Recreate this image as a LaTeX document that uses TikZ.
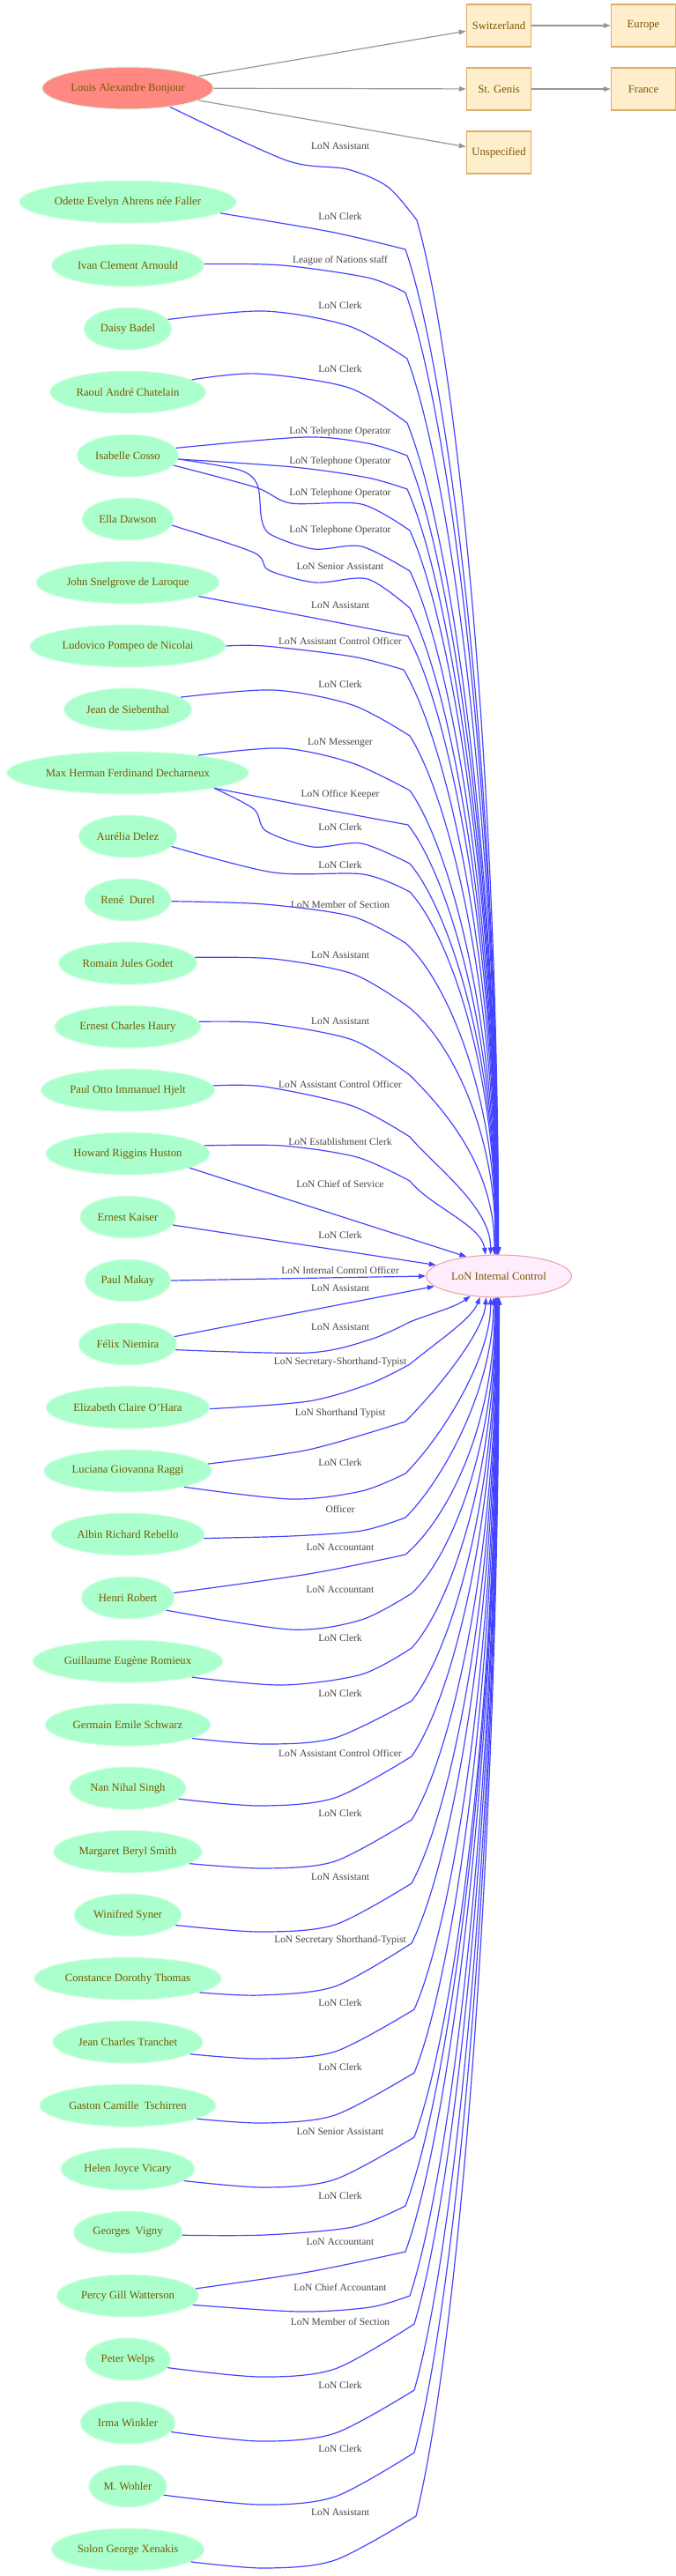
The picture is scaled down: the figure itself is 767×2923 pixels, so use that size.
\documentclass[tikz,border=0pt]{standalone}
\usepackage{fontspec}
\setmainfont{Liberation Serif}
\usetikzlibrary{arrows.meta}
\usetikzlibrary{shapes}
\definecolor{personfill}{RGB}{170,255,204}
\definecolor{personline}{RGB}{210,255,225}
\definecolor{headfill}{RGB}{255,136,130}
\definecolor{officefill}{RGB}{255,236,252}
\definecolor{officeline}{RGB}{235,165,165}
\definecolor{placefill}{RGB}{255,238,204}
\definecolor{placeline}{RGB}{222,172,105}
\definecolor{nametext}{RGB}{120,88,0}
\definecolor{roletext}{RGB}{68,68,68}
\definecolor{staffblue}{RGB}{68,68,255}
\definecolor{placegray}{RGB}{150,150,150}

\begin{document}
\begin{tikzpicture}[x=0.75pt, y=-0.75pt, font=\fontsize{9.5}{11}\selectfont]
\tikzstyle{personStyle}=[shape=ellipse, draw=personline, fill=personfill, text=nametext, minimum height=36pt, inner xsep=3pt, line width=0.8pt]
\tikzstyle{headStyle}=[personStyle, fill=headfill]
\tikzstyle{officeStyle}=[shape=ellipse, draw=officeline, fill=officefill, text=nametext, minimum height=36pt, minimum width=115pt, line width=0.8pt]
\tikzstyle{placeStyle}=[shape=rectangle, draw=placeline, fill=placefill, text=nametext, minimum height=36pt, minimum width=55pt, inner xsep=4pt, line width=0.8pt]
\tikzstyle{roleStyle}=[text=roletext, font=\fontsize{8.6}{10}\selectfont, inner sep=1pt]
\tikzstyle{staffEdge}=[draw=staffblue, line width=0.9pt, -{Triangle[length=6pt,width=4.2pt]}]
\tikzstyle{placeEdge}=[draw=placegray, line width=0.9pt, -{Triangle[length=6pt,width=4.2pt]}]
\useasboundingbox (0,0) rectangle (767,2923);
\node[headStyle] (v0) at (145,100) {Louis Alexandre Bonjour};
\node[placeStyle] (v1) at (566,29) {Switzerland};
\node[placeStyle] (v2) at (566,101) {St. Genis};
\node[placeStyle] (v3) at (566,173) {Unspecified};
\node[placeStyle] (v4) at (730,29) {Europe};
\node[placeStyle] (v5) at (730,101) {France};
\node[officeStyle] (v6) at (566,1448) {LoN Internal Control};
\node[personStyle] (v7) at (145,229) {Odette Evelyn Ahrens née Faller};
\node[personStyle] (v8) at (145,301) {Ivan Clement Arnould};
\node[personStyle] (v9) at (145,373) {Daisy Badel};
\node[personStyle] (v10) at (145,445) {Raoul André Chatelain};
\node[personStyle] (v11) at (145,517) {Isabelle Cosso};
\node[personStyle] (v12) at (145,589) {Ella Dawson};
\node[personStyle] (v13) at (145,661) {John Snelgrove de Laroque};
\node[personStyle] (v14) at (145,733) {Ludovico Pompeo de Nicolai};
\node[personStyle] (v15) at (145,805) {Jean de Siebenthal};
\node[personStyle] (v16) at (145,877) {Max Herman Ferdinand Decharneux};
\node[personStyle] (v17) at (145,949) {Aurélia Delez};
\node[personStyle] (v18) at (145,1021) {René\ \ Durel};
\node[personStyle] (v19) at (145,1093) {Romain Jules Godet};
\node[personStyle] (v20) at (145,1165) {Ernest Charles Haury};
\node[personStyle] (v21) at (145,1237) {Paul Otto Immanuel Hjelt};
\node[personStyle] (v22) at (145,1309) {Howard Riggins Huston};
\node[personStyle] (v23) at (145,1381) {Ernest Kaiser};
\node[personStyle] (v24) at (145,1453) {Paul Makay};
\node[personStyle] (v25) at (145,1525) {Félix Niemira};
\node[personStyle] (v26) at (145,1597) {Elizabeth Claire O'Hara};
\node[personStyle] (v27) at (145,1669) {Luciana Giovanna Raggi};
\node[personStyle] (v28) at (145,1741) {Albin Richard Rebello};
\node[personStyle] (v29) at (145,1813) {Henri Robert};
\node[personStyle] (v30) at (145,1885) {Guillaume Eugène Romieux};
\node[personStyle] (v31) at (145,1957) {Germain Emile Schwarz};
\node[personStyle] (v32) at (145,2029) {Nan Nihal Singh};
\node[personStyle] (v33) at (145,2101) {Margaret Beryl Smith};
\node[personStyle] (v34) at (145,2173) {Winifred Syner};
\node[personStyle] (v35) at (145,2245) {Constance Dorothy Thomas};
\node[personStyle] (v36) at (145,2317) {Jean Charles Tranchet};
\node[personStyle] (v37) at (145,2389) {Gaston Camille\ \ Tschirren};
\node[personStyle] (v38) at (145,2461) {Helen Joyce Vicary};
\node[personStyle] (v39) at (145,2533) {Georges\ \ Vigny};
\node[personStyle] (v40) at (145,2605) {Percy Gill Watterson};
\node[personStyle] (v41) at (145,2677) {Peter Welps};
\node[personStyle] (v42) at (145,2749) {Irma Winkler};
\node[personStyle] (v43) at (145,2821) {M. Wohler};
\node[personStyle] (v44) at (145,2893) {Solon George Xenakis};
\node[roleStyle] (l0) at (386,166) {LoN Assistant};
\node[roleStyle] (l1) at (386,246) {LoN Clerk};
\node[roleStyle] (l2) at (386,296) {League of Nations staff};
\node[roleStyle] (l3) at (386,347) {LoN Clerk};
\node[roleStyle] (l4) at (386,419) {LoN Clerk};
\node[roleStyle] (l5) at (386,490) {LoN Telephone Operator};
\node[roleStyle] (l6) at (386,524) {LoN Telephone Operator};
\node[roleStyle] (l7) at (386,560) {LoN Telephone Operator};
\node[roleStyle] (l8) at (386,602) {LoN Telephone Operator};
\node[roleStyle] (l9) at (386,643) {LoN Senior Assistant};
\node[roleStyle] (l10) at (386,687) {LoN Assistant};
\node[roleStyle] (l11) at (386,728) {LoN Assistant Control Officer};
\node[roleStyle] (l12) at (386,777) {LoN Clerk};
\node[roleStyle] (l13) at (386,843) {LoN Messenger};
\node[roleStyle] (l14) at (386,902) {LoN Office Keeper};
\node[roleStyle] (l15) at (386,939) {LoN Clerk};
\node[roleStyle] (l16) at (386,982) {LoN Clerk};
\node[roleStyle] (l17) at (386,1027) {LoN Member of Section};
\node[roleStyle] (l18) at (386,1084) {LoN Assistant};
\node[roleStyle] (l19) at (386,1159) {LoN Assistant};
\node[roleStyle] (l20) at (386,1231) {LoN Assistant Control Officer};
\node[roleStyle] (l21) at (386,1296) {LoN Establishment Clerk};
\node[roleStyle] (l22) at (386,1344) {LoN Chief of Service};
\node[roleStyle] (l23) at (386,1402) {LoN Clerk};
\node[roleStyle] (l24) at (386,1442) {LoN Internal Control Officer};
\node[roleStyle] (l25) at (386,1462) {LoN Assistant};
\node[roleStyle] (l26) at (386,1506) {LoN Assistant};
\node[roleStyle] (l27) at (386,1546) {LoN Secretary-Shorthand-Typist};
\node[roleStyle] (l28) at (386,1604) {LoN Shorthand Typist};
\node[roleStyle] (l29) at (386,1660) {LoN Clerk};
\node[roleStyle] (l30) at (386,1712) {Officer};
\node[roleStyle] (l31) at (386,1756) {LoN Accountant};
\node[roleStyle] (l32) at (386,1804) {LoN Accountant};
\node[roleStyle] (l33) at (386,1859) {LoN Clerk};
\node[roleStyle] (l34) at (386,1922) {LoN Clerk};
\node[roleStyle] (l35) at (386,1989) {LoN Assistant Control Officer};
\node[roleStyle] (l36) at (386,2058) {LoN Clerk};
\node[roleStyle] (l37) at (386,2130) {LoN Assistant};
\node[roleStyle] (l38) at (386,2202) {LoN Secretary Shorthand-Typist};
\node[roleStyle] (l39) at (386,2273) {LoN Clerk};
\node[roleStyle] (l40) at (386,2346) {LoN Clerk};
\node[roleStyle] (l41) at (386,2419) {LoN Senior Assistant};
\node[roleStyle] (l42) at (386,2492) {LoN Clerk};
\node[roleStyle] (l43) at (386,2544) {LoN Accountant};
\node[roleStyle] (l44) at (386,2595) {LoN Chief Accountant};
\node[roleStyle] (l45) at (386,2634) {LoN Member of Section};
\node[roleStyle] (l46) at (386,2707) {LoN Clerk};
\node[roleStyle] (l47) at (386,2779) {LoN Clerk};
\node[roleStyle] (l48) at (386,2851) {LoN Assistant};
\draw[placeEdge] (v0) -- (v1);
\draw[placeEdge] (v0) -- (v2);
\draw[placeEdge] (v0) -- (v3);
\draw[placeEdge] (v1) -- (v4);
\draw[placeEdge] (v2) -- (v5);
\draw[staffEdge] plot[smooth] coordinates {(v0.-24) (325,182) (394,192) (440,212) (473,250)} .. controls (514,391) and (565,837) .. (v6.91);
\draw[staffEdge] plot[smooth] coordinates {(v7.-7) (375,263) (460,283)} .. controls (507,420) and (565,854) .. (v6.91);
\draw[staffEdge] plot[smooth] coordinates {(v8.1) (320,301) (417,315) (460,332)} .. controls (507,463) and (565,878) .. (v6.92);
\draw[staffEdge] plot[smooth] coordinates {(v9.13) (300,353) (396,370) (462,407)} .. controls (508,529) and (565,916) .. (v6.92);
\draw[staffEdge] plot[smooth] coordinates {(v10.11) (292,424) (396,440) (462,480)} .. controls (508,593) and (565,952) .. (v6.93);
\draw[staffEdge] plot[smooth] coordinates {(v11.9) (346,496) (417,503) (462,517)} .. controls (508,626) and (565,971) .. (v6.93);
\draw[staffEdge] plot[smooth] coordinates {(v11.-4) (333,530) (417,542) (462,555)} .. controls (508,659) and (565,990) .. (v6.94);
\draw[staffEdge] plot[smooth] coordinates {(v11.-12) (290,553) (330,571) (410,572) (465,602)} .. controls (510,701) and (565,1013) .. (v6.94);
\draw[staffEdge] plot[smooth] coordinates {(v11.-4) (271,533) (292,550) (297,590) (308,607) (356,623) (410,620) (465,648)} .. controls (510,741) and (565,1036) .. (v6.95);
\draw[staffEdge] plot[smooth] coordinates {(v12.-8) (288,627) (305,647) (358,661) (417,657) (465,690)} .. controls (510,778) and (565,1057) .. (v6.95);
\draw[staffEdge] plot[smooth] coordinates {(v13.-11) (350,700) (463,722)} .. controls (509,806) and (565,1073) .. (v6.96);
\draw[staffEdge] plot[smooth] coordinates {(v14.0) (300,733) (400,745) (458,760)} .. controls (506,840) and (565,1092) .. (v6.96);
\draw[staffEdge] plot[smooth] coordinates {(v15.13) (310,783) (400,800) (465,835)} .. controls (510,906) and (565,1130) .. (v6.97);
\draw[staffEdge] plot[smooth] coordinates {(v16.14) (320,849) (400,866) (465,897)} .. controls (510,960) and (565,1161) .. (v6.97);
\draw[staffEdge] plot[smooth] coordinates {(v16.-10) (350,915) (463,936)} .. controls (509,995) and (565,1180) .. (v6.98);
\draw[staffEdge] plot[smooth] coordinates {(v16.-10) (288,918) (302,943) (355,961) (410,957) (465,980)} .. controls (510,1033) and (565,1202) .. (v6.98);
\draw[staffEdge] plot[smooth] coordinates {(v17.-13) (310,990) (412,992) (465,1012)} .. controls (510,1061) and (565,1218) .. (v6.99);
\draw[staffEdge] plot[smooth] coordinates {(v18.-2) (300,1026) (400,1040) (460,1070)} .. controls (507,1112) and (565,1247) .. (v6.99);
\draw[staffEdge] plot[smooth] coordinates {(v19.5) (310,1088) (400,1105) (460,1140)} .. controls (507,1174) and (565,1282) .. (v6.100);
\draw[staffEdge] plot[smooth] coordinates {(v20.4) (300,1161) (400,1180) (465,1220)} .. controls (500,1255) and (562,1322) .. (v6.102);
\draw[staffEdge] plot[smooth] coordinates {(v21.3) (300,1233) (400,1255) (465,1290)} .. controls (495,1325) and (557,1370) .. (v6.111);
\draw[staffEdge] plot[smooth] coordinates {(v22.6) (320,1300) (405,1313) (465,1340)} .. controls (490,1370) and (546,1390) .. (v6.122);
\draw[staffEdge] (v22.-13) -- (v6.149);
\draw[staffEdge] (v23.-10) -- (v6.170);
\draw[staffEdge] (v24.0) -- (v6.180);
\draw[staffEdge] (v25.9) -- (v6.189);
\draw[staffEdge] plot[smooth] coordinates {(v25.-7) (350,1535) (420,1520) (465,1500)} .. controls (490,1490) and (515,1484) .. (v6.215);
\draw[staffEdge] plot[smooth] coordinates {(v26.-1) (350,1590) (420,1570) (465,1548)} .. controls (495,1523) and (535,1497) .. (v6.228);
\draw[staffEdge] plot[smooth] coordinates {(v27.5) (350,1645) (460,1613)} .. controls (495,1578) and (549,1512) .. (v6.239);
\draw[staffEdge] plot[smooth] coordinates {(v27.-16) (330,1701) (410,1692) (460,1672)} .. controls (500,1632) and (557,1542) .. (v6.249);
\draw[staffEdge] plot[smooth] coordinates {(v28.-3) (330,1743) (410,1737) (460,1722)} .. controls (505,1677) and (560,1572) .. (v6.256);
\draw[staffEdge] plot[smooth] coordinates {(v29.6) (350,1786) (460,1764)} .. controls (507,1724) and (562,1618) .. (v6.259);
\draw[staffEdge] plot[smooth] coordinates {(v29.-18) (330,1849) (410,1838) (467,1808)} .. controls (511,1768) and (563,1640) .. (v6.261);
\draw[staffEdge] plot[smooth] coordinates {(v30.-14) (320,1912) (410,1900) (467,1870)} .. controls (511,1822) and (563,1671) .. (v6.262);
\draw[staffEdge] plot[smooth] coordinates {(v31.-12) (300,1979) (380,1972) (467,1930)} .. controls (511,1875) and (564,1701) .. (v6.263);
\draw[staffEdge] plot[smooth] coordinates {(v32.-12) (295,2049) (380,2040) (467,1993)} .. controls (511,1930) and (564,1732) .. (v6.264);
\draw[staffEdge] plot[smooth] coordinates {(v33.-11) (300,2120) (380,2112) (467,2065)} .. controls (511,1994) and (565,1768) .. (v6.265);
\draw[staffEdge] plot[smooth] coordinates {(v34.-12) (295,2192) (380,2184) (467,2137)} .. controls (511,2057) and (565,1804) .. (v6.265);
\draw[staffEdge] plot[smooth] coordinates {(v35.-11) (295,2264) (380,2254) (467,2205)} .. controls (511,2117) and (565,1838) .. (v6.266);
\draw[staffEdge] plot[smooth] coordinates {(v36.-11) (295,2336) (380,2328) (470,2280)} .. controls (513,2183) and (565,1876) .. (v6.266);
\draw[staffEdge] plot[smooth] coordinates {(v37.-11) (300,2409) (380,2400) (470,2352)} .. controls (513,2246) and (565,1912) .. (v6.267);
\draw[staffEdge] plot[smooth] coordinates {(v38.-12) (300,2482) (380,2473) (470,2425)} .. controls (513,2311) and (566,1948) .. (v6.267);
\draw[staffEdge] plot[smooth] coordinates {(v39.-3) (300,2536) (400,2527) (460,2503)} .. controls (507,2379) and (566,1987) .. (v6.268);
\draw[staffEdge] plot[smooth] coordinates {(v40.6) (350,2578) (460,2555)} .. controls (507,2425) and (566,2013) .. (v6.268);
\draw[staffEdge] plot[smooth] coordinates {(v40.-8) (340,2623) (420,2618) (465,2605)} .. controls (510,2469) and (566,2038) .. (v6.269);
\draw[staffEdge] plot[smooth] coordinates {(v41.-12) (295,2697) (380,2688) (470,2637)} .. controls (513,2497) and (566,2054) .. (v6.269);
\draw[staffEdge] plot[smooth] coordinates {(v42.-12) (295,2770) (380,2761) (470,2712)} .. controls (513,2563) and (566,2092) .. (v6.270);
\draw[staffEdge] plot[smooth] coordinates {(v43.-14) (295,2842) (380,2833) (470,2783)} .. controls (513,2626) and (566,2127) .. (v6.270);
\draw[staffEdge] plot[smooth] coordinates {(v44.-11) (300,2914) (380,2905) (472,2855)} .. controls (514,2689) and (566,2163) .. (v6.271);
\end{tikzpicture}
\end{document}
